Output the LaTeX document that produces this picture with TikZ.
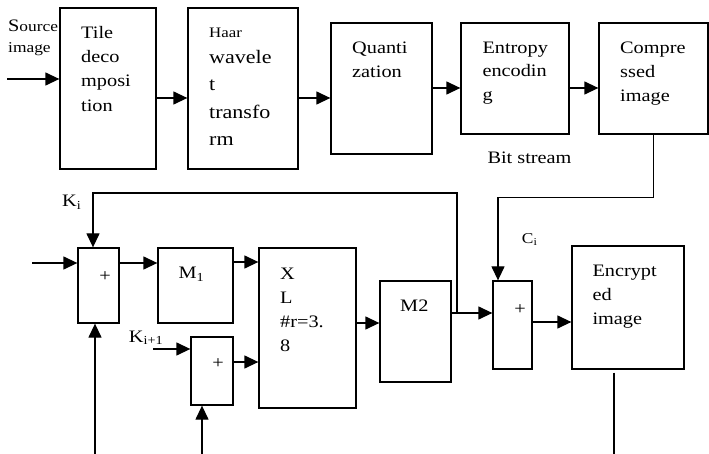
\documentclass[tikz,border=0pt]{standalone}
\usepackage{fontspec}
\setmainfont{Liberation Serif}[FakeStretch=1.16]
\usetikzlibrary{arrows.meta}
\tikzset{
  blk/.style={draw, line width=1.3pt, inner sep=0pt},
  txt/.style={inner sep=0pt, anchor=north west, align=left, font=\fontsize{17.5}{24}\selectfont},
  lbl/.style={inner sep=0pt, anchor=base west, font=\fontsize{17.5}{21}\selectfont},
  sgn/.style={inner sep=0pt, font=\fontsize{17.5}{21}\selectfont},
  arr/.style={line width=1.3pt, -{Triangle[length=14pt,width=13pt]}},
  ln/.style={line width=1.3pt}
}
\begin{document}
\begin{tikzpicture}[x=1pt,y=-1pt]
\useasboundingbox (0,0) rectangle (709,454);
\node[blk, minimum width=96, minimum height=161] (tile) at (108,88.5) {};
\node[blk, minimum width=110, minimum height=161] (haar) at (243,88.5) {};
\node[blk, minimum width=101, minimum height=131] (quant) at (381.5,88.5) {};
\node[blk, minimum width=108, minimum height=111] (entropy) at (515,78.5) {};
\node[blk, minimum width=109, minimum height=111] (compr) at (653.5,78.5) {};
\node[blk, minimum width=41, minimum height=75] (plusa) at (98.5,285.5) {};
\node[blk, minimum width=75, minimum height=75] (ma) at (195.5,285.5) {};
\node[blk, minimum width=97, minimum height=160] (xl) at (307.5,328) {};
\node[blk, minimum width=42, minimum height=68] (plusb) at (212,371) {};
\node[blk, minimum width=71, minimum height=101] (mb) at (415.5,331.5) {};
\node[blk, minimum width=39, minimum height=88] (plusc) at (512.5,325) {};
\node[blk, minimum width=112, minimum height=123] (encr) at (628,307.5) {};

\node[txt, font=\fontsize{15}{21.5}\selectfont] (srctxt) at (8,19.6) {{\fontsize{17.5}{21.5}\selectfont S}ource\\image};
\node[txt, font=\fontsize{17.5}{24.4}\selectfont] (tiletxt) at (81,25.7) {Tile\\deco\\mposi\\tion};
\node[txt, font=\fontsize{19}{27.5}\selectfont] (haartxt) at (209,27.7) {{\fontsize{14.5}{27.5}\selectfont Haar}\\[-1.5pt]wavele\\t\\transfo\\rm};
\node[txt] (quanttxt) at (352,41.7) {Quanti\\zation};
\node[txt, font=\fontsize{17.5}{23.5}\selectfont] (entropytxt) at (482.3,41.7) {Entropy\\encodin\\g};
\node[txt] (comprtxt) at (620,41.4) {Compre\\ssed\\image};
\node[txt] (xltxt) at (280,267.4) {X\\L\\\#r=3.\\8};
\node[txt] (encrtxt) at (592.3,264.4) {Encrypt\\ed\\image};

\node[lbl] (bit) at (487.3,163.3) {Bit stream};
\node[lbl] (ki) at (62,206.7) {K\textsubscript{i}};
\node[lbl] (kn) at (128.7,342.3) {K\textsubscript{i+1}};
\node[lbl] (mat) at (178.3,279) {M\textsubscript{1}};
\node[lbl] (mbt) at (400,311.7) {M2};
\node[lbl, font=\fontsize{15}{18}\selectfont] (ci) at (521.7,243.3) {C\textsubscript{i}};
\node[sgn] (sa) at (105,277) {+};
\node[sgn] (sb) at (218,364) {+};
\node[sgn] (sc) at (520,310) {+};

\coordinate (src) at (7,79);
\coordinate (in) at (32,263);
\coordinate (br) at (457,313);
\coordinate (kt) at (457,193);
\coordinate (kin) at (153,349);
\coordinate (fba) at (95,454);
\coordinate (fbb) at (202,454);
\coordinate (out) at (614,454);

\draw[arr] (src) -- (src -| tile.west);
\draw[arr] ([yshift=-9.5pt]tile.east) -- ([yshift=-9.5pt]haar.west);
\draw[arr] ([yshift=-9.5pt]haar.east) -- ([yshift=-9.5pt]quant.west);
\draw[arr] ([yshift=0.5pt]quant.east) -- ([yshift=0.5pt]quant.east -| entropy.west);
\draw[arr] ([yshift=-9.5pt]entropy.east) -- ([yshift=-9.5pt]compr.west);
\draw[arr] (compr.south) -- ++(0,63) -| ([xshift=-14.5pt]plusc.north);
\draw[arr] (in) -- (in -| plusa.west);
\draw[arr] (in -| plusa.east) -- (in -| ma.west);
\draw[arr] ([yshift=23.5pt]ma.east) -- ([yshift=23.5pt]ma.east -| xl.west);
\draw[arr] ([yshift=5pt]xl.east) -- ([yshift=5pt]xl.east -| mb.west);
\draw[arr] (br -| mb.east) -- (br -| plusc.west);
\draw[arr] (br) -- (kt) -| ([xshift=-5.5pt]plusa.north);
\draw[arr] ([yshift=3pt]plusc.east) -- ([yshift=3pt]plusc.east -| encr.west);
\draw[ln] ([xshift=-14pt,yshift=-3pt]encr.south) -- (out);
\draw[arr] (fba) -- (fba |- plusa.south);
\draw[arr] (kin) -- (kin -| plusb.west);
\draw[arr] ([yshift=9pt]plusb.east) -- ([yshift=9pt]plusb.east -| xl.west);
\draw[arr] (fbb) -- (fbb |- plusb.south);
\end{tikzpicture}
\end{document}
